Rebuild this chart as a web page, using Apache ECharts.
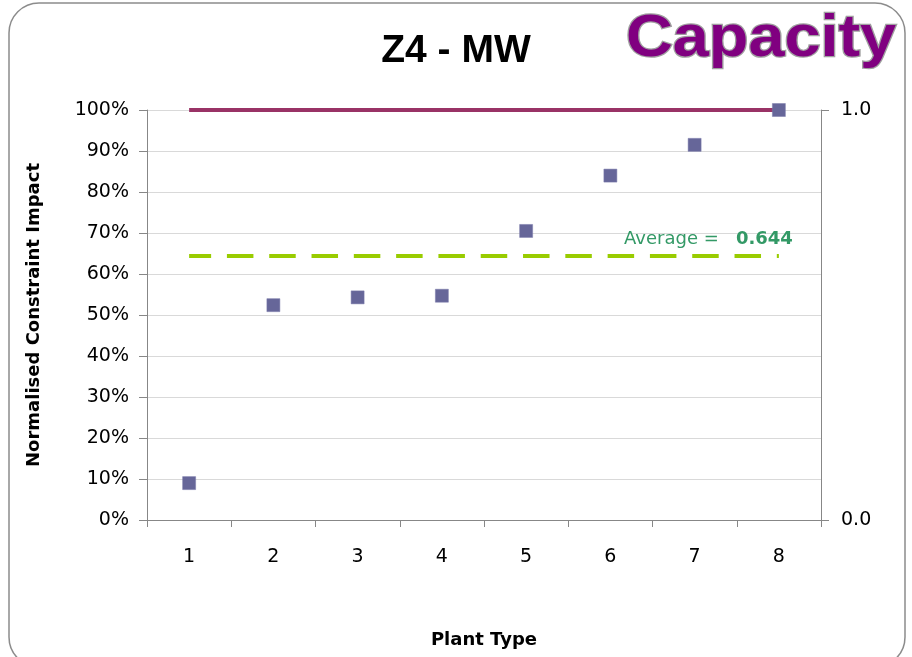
<!DOCTYPE html>
<html>
<head>
<meta charset="utf-8">
<script src="https://cdn.jsdelivr.net/npm/echarts@6/dist/echarts.min.js"></script>
<style>
html,body{margin:0;padding:0;background:#fff;}
#chart{width:912px;height:657px;}
</style>
</head>
<body>
<div id="chart"></div>
<script>
// ---- data ----
var categories = ['1', '2', '3', '4', '5', '6', '7', '8'];
var impactValues = [0.09, 0.524, 0.543, 0.547, 0.705, 0.840, 0.915, 1.0];
var capLevel = 1.0;
var averageValue = 0.644;
var leftTicks = { min: 0, max: 1, interval: 0.1 };
var rightTicks = { min: 0, max: 1, interval: 1 };
var titleText = 'Z4 - MW';
var badgeText = 'Capacity';
var xName = 'Plant Type';
var yName = 'Normalised Constraint Impact';

var capLine = categories.map(function () { return capLevel; });
var avgLine = categories.map(function (c, i) {
  if (i === categories.length - 1) {
    return {
      value: averageValue,
      label: {
        show: true,
        position: 'top',
        align: 'right',
        distance: 7,
        offset: [14, 0],
        formatter: '{a|Average =   }{b|' + averageValue.toFixed(3) + '}',
        rich: {
          a: { fontFamily: 'DejaVu Sans', fontSize: 18, color: '#339966' },
          b: { fontFamily: 'DejaVu Sans', fontSize: 18, fontWeight: 'bold', color: '#339966' }
        }
      }
    };
  }
  return averageValue;
});

var chart = echarts.init(document.getElementById('chart'), null, { renderer: 'canvas' });
var axisGray = '#878787';
chart.setOption({
  animation: false,
  backgroundColor: '#ffffff',
  title: {
    text: titleText,
    left: 'center',
    top: 27,
    textStyle: { fontFamily: 'Liberation Sans', fontSize: 39, fontWeight: 'bold', color: '#000' }
  },
  graphic: [
    {
      type: 'rect',
      shape: { x: 9, y: 3, width: 896, height: 664, r: 30 },
      style: { fill: 'none', stroke: '#8c8c8c', lineWidth: 1.5 },
      z: -1
    },
    {
      type: 'text',
      x: 626, y: 39,
      scaleX: 1.08,
      style: {
        text: badgeText,
        font: 'bold 60px "Liberation Sans"',
        fill: '#800080',
        stroke: '#a0a0a0',
        lineWidth: 2.5,
        textAlign: 'left',
        textVerticalAlign: 'middle'
      },
      z: 10
    }
  ],
  grid: { left: 147, right: 91, top: 110, bottom: 137, containLabel: false },
  xAxis: {
    type: 'category',
    data: categories,
    boundaryGap: true,
    name: xName,
    nameLocation: 'middle',
    nameGap: 111,
    nameTextStyle: { fontFamily: 'DejaVu Sans', fontSize: 18, fontWeight: 'bold', color: '#000' },
    axisLine: { show: true, lineStyle: { color: axisGray, width: 1 } },
    axisTick: { show: true, alignWithLabel: false, length: 7, lineStyle: { color: axisGray } },
    axisLabel: { margin: 28, fontFamily: 'DejaVu Sans', fontSize: 19, color: '#000' },
    splitLine: { show: false }
  },
  yAxis: [
    {
      type: 'value',
      min: leftTicks.min, max: leftTicks.max, interval: leftTicks.interval,
      name: yName,
      nameLocation: 'middle',
      nameGap: 104,
      nameRotate: 90,
      nameTextStyle: { fontFamily: 'DejaVu Sans', fontSize: 18, fontWeight: 'bold', color: '#000' },
      axisLine: { show: true, lineStyle: { color: axisGray, width: 1 } },
      axisTick: { show: true, length: 8, lineStyle: { color: axisGray } },
      axisLabel: {
        margin: 18, fontFamily: 'DejaVu Sans', fontSize: 19, color: '#000',
        formatter: function (v) { return Math.round(v * 100) + '%'; }
      },
      splitLine: { show: true, lineStyle: { color: '#d9d9d9', width: 1 } }
    },
    {
      type: 'value',
      position: 'right',
      min: rightTicks.min, max: rightTicks.max, interval: rightTicks.interval,
      axisLine: { show: true, lineStyle: { color: axisGray, width: 1 } },
      axisTick: { show: true, length: 8, lineStyle: { color: axisGray } },
      axisLabel: {
        margin: 20, fontFamily: 'DejaVu Sans', fontSize: 19, color: '#000',
        formatter: function (v) { return v.toFixed(1); }
      },
      splitLine: { show: false }
    }
  ],
  series: [
    {
      name: 'cap',
      type: 'line',
      data: capLine,
      showSymbol: false,
      symbol: 'none',
      lineStyle: { color: '#993366', width: 4 },
      z: 2
    },
    {
      name: 'average',
      type: 'line',
      data: avgLine,
      showSymbol: true,
      symbol: 'circle',
      symbolSize: 1,
      itemStyle: { color: 'rgba(0,0,0,0)' },
      lineStyle: { color: '#99cc00', width: 4, type: [26.5, 15.8], dashOffset: 4.5 },
      z: 2
    },
    {
      name: 'impact',
      type: 'scatter',
      data: impactValues,
      symbol: 'rect',
      symbolSize: 13,
      itemStyle: { color: '#666699', opacity: 1, borderColor: '#7a7aab', borderWidth: 0.5 },
      z: 5
    }
  ]
});
</script>
</body>
</html>
